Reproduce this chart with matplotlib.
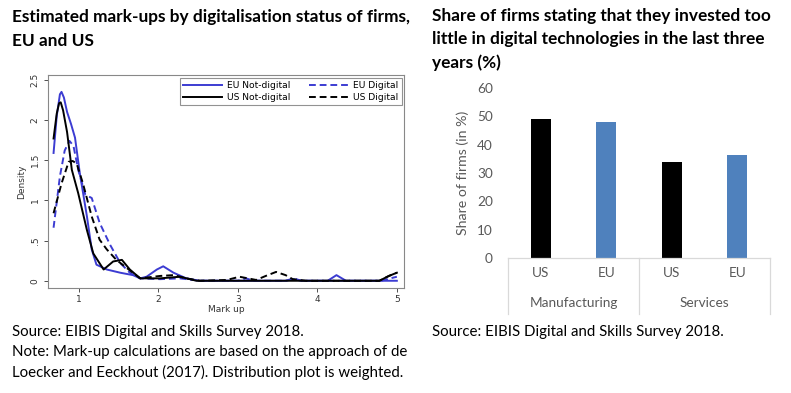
import matplotlib
matplotlib.use("Agg")
import matplotlib.pyplot as plt
from matplotlib.lines import Line2D

# ---------------- data: density curves ----------------
eu_nd_x = [0.68, 0.72, 0.76, 0.78, 0.81, 0.85, 0.90, 0.95, 1.01, 1.10, 1.16, 1.22, 1.35, 1.52, 1.68, 1.77,
           1.85, 1.98, 2.06, 2.19, 2.35, 2.52, 3.0, 3.6, 3.7, 3.8, 4.13, 4.24, 4.36, 4.6, 5.0]
eu_nd_y = [1.59, 2.05, 2.32, 2.35, 2.28, 2.10, 1.95, 1.78, 1.34, 0.80, 0.39, 0.20, 0.14, 0.10, 0.07, 0.03,
           0.05, 0.14, 0.18, 0.10, 0.03, 0.00, 0.00, 0.00, 0.02, 0.00, 0.00, 0.07, 0.00, 0.00, 0.00]

us_nd_x = [0.68, 0.72, 0.75, 0.77, 0.80, 0.85, 0.91, 0.99, 1.10, 1.18, 1.31, 1.43, 1.54, 1.64, 1.77,
           2.02, 2.27, 2.48, 3.0, 4.0, 4.78, 4.9, 5.0]
us_nd_y = [1.77, 2.08, 2.21, 2.22, 2.12, 1.85, 1.38, 1.09, 0.63, 0.34, 0.14, 0.24, 0.26, 0.14, 0.03,
           0.03, 0.05, 0.00, 0.00, 0.00, 0.00, 0.06, 0.10]

eu_d_x = [0.68, 0.76, 0.82, 0.88, 0.93, 0.99, 1.08, 1.16, 1.26, 1.39, 1.52, 1.64, 1.77,
          2.02, 2.27, 2.52, 3.0, 3.1, 3.2, 3.6, 3.7, 3.8, 4.8, 5.0]
eu_d_y = [0.66, 1.30, 1.62, 1.74, 1.68, 1.38, 1.07, 1.03, 0.72, 0.45, 0.22, 0.10, 0.03,
          0.02, 0.03, 0.00, 0.00, 0.03, 0.00, 0.00, 0.03, 0.00, 0.00, 0.05]

us_d_x = [0.68, 0.78, 0.87, 0.92, 0.97, 1.05, 1.16, 1.26, 1.35, 1.47, 1.60, 1.77, 2.02, 2.19, 2.35,
          2.52, 2.86, 3.02, 3.23, 3.35, 3.48, 3.60, 3.69, 3.86, 4.78, 4.9, 5.0]
us_d_y = [0.84, 1.21, 1.48, 1.49, 1.46, 1.21, 0.80, 0.51, 0.39, 0.26, 0.16, 0.03, 0.06, 0.07, 0.03,
          0.00, 0.01, 0.05, 0.01, 0.06, 0.11, 0.07, 0.02, 0.00, 0.00, 0.06, 0.10]

density_yticks = [0, 0.5, 1, 1.5, 2, 2.5]
density_yticklabels = ["0", ".5", "1", "1.5", "2", "2.5"]
density_xticks = [1, 2, 3, 4, 5]

# ---------------- data: bar chart ----------------
bar_regions = ["US", "EU", "US", "EU"]
bar_values = [49.2, 48.0, 33.9, 36.2]
bar_sectors = ["Manufacturing", "Services"]
bar_yticks = [0, 10, 20, 30, 40, 50, 60]

W, H = 791, 393
fig = plt.figure(figsize=(W / 100, H / 100), dpi=100)
fig.patch.set_facecolor("white")

BLUE = "#3c3cd2"
title_font = dict(family="Lato", fontweight="bold", fontsize=12.4, color="black")
body_font = dict(family="Lato", fontsize=10.8, color="black")

def fx(px):
    return px / W

def fy(py):
    return 1 - py / H

# ---------------- titles & notes ----------------
left_title = ["Estimated mark-ups by digitalisation status of firms,", "EU and US"]
for t, y in zip(left_title, [17, 41]):
    fig.text(fx(12), fy(y), t, va="center", ha="left", **title_font)
right_title = ["Share of firms stating that they invested too",
               "little in digital technologies in the last three", "years (%)"]
for t, y in zip(right_title, [16, 39, 63]):
    fig.text(fx(432), fy(y), t, va="center", ha="left", **title_font)
left_notes = ["Source: EIBIS Digital and Skills Survey 2018.",
              "Note: Mark-up calculations are based on the approach of de",
              "Loecker and Eeckhout (2017). Distribution plot is weighted."]
for t, y in zip(left_notes, [332, 352, 372]):
    fig.text(fx(12), fy(y), t, va="center", ha="left", **body_font)
fig.text(fx(432), fy(332), "Source: EIBIS Digital and Skills Survey 2018.",
         va="center", ha="left", **body_font)

# ---------------- left: density chart ----------------
ax1 = fig.add_axes([fx(48), fy(288), fx(404 - 48), (288 - 75) / H])
DASH = (0, (3.5, 2))
ax1.plot(eu_nd_x, eu_nd_y, color=BLUE, lw=1.4)
ax1.plot(eu_d_x, eu_d_y, color=BLUE, lw=1.4, ls=DASH)
ax1.plot(us_nd_x, us_nd_y, color="black", lw=1.4)
ax1.plot(us_d_x, us_d_y, color="black", lw=1.4, ls=DASH)
ax1.set_xlim(0.61, 5.09)
ax1.set_ylim(-0.09, 2.56)
ax1.set_yticks(density_yticks)
ax1.set_yticklabels(density_yticklabels, rotation=90, va="center")
ax1.set_xticks(density_xticks)
ax1.tick_params(labelsize=6.5, colors="#333333", length=3, width=0.6, pad=2)
ax1.tick_params(axis="y", pad=3)
for s in ax1.spines.values():
    s.set_color("#888888")
    s.set_linewidth(0.8)
ax1.set_ylabel("Density", fontsize=6.5, color="#333333", labelpad=3)
ax1.set_xlabel("Mark up", fontsize=6.5, color="#333333", labelpad=1)
handles = [Line2D([], [], color=BLUE, lw=1.4),
           Line2D([], [], color="black", lw=1.4),
           Line2D([], [], color=BLUE, lw=1.4, ls=DASH),
           Line2D([], [], color="black", lw=1.4, ls=DASH)]
labels = ["EU Not-digital", "US Not-digital", "EU Digital", "US Digital"]
leg = ax1.legend(handles, labels, ncol=2, loc="upper right", fontsize=6.6,
                 frameon=True, fancybox=False, edgecolor="#777777",
                 borderpad=0.35, handlelength=4.2, columnspacing=2.0,
                 labelspacing=0.3, handletextpad=0.6,
                 bbox_to_anchor=(0.993, 0.986), borderaxespad=0)
leg.get_frame().set_linewidth(0.8)

# ---------------- right: bar chart ----------------
ax2 = fig.add_axes([fx(508), fy(258), fx(770 - 508), (258 - 88) / H])
xpos = list(range(len(bar_values)))
colors = ["black", "#4f81bd", "black", "#4f81bd"]
ax2.bar(xpos, bar_values, width=0.31, color=colors)
ax2.set_xlim(-0.5, 3.5)
ax2.set_ylim(0, 60)
ax2.set_yticks(bar_yticks)
ax2.set_yticklabels([str(v) for v in bar_yticks], family="Lato", fontsize=9.8, color="#595959")
ax2.tick_params(axis="y", length=0, pad=11)
ax2.set_xticks([])
for side in ["top", "right", "left"]:
    ax2.spines[side].set_visible(False)
ax2.spines["bottom"].set_color("#d9d9d9")
ax2.spines["bottom"].set_linewidth(0.9)
ax2.set_ylabel("Share of firms (in %)", family="Lato", fontsize=10.2, color="#595959", labelpad=6)

trans = ax2.get_xaxis_transform()
for i, r in enumerate(bar_regions):
    ax2.text(xpos[i], -0.09, r, transform=trans, ha="center", va="center",
             family="Lato", fontsize=9.8, color="#595959", clip_on=False)
for j, s in enumerate(bar_sectors):
    ax2.text(2 * j + 0.5, -0.265, s, transform=trans, ha="center", va="center",
             family="Lato", fontsize=9.8, color="#595959", clip_on=False)
for xv in [-0.5, 1.5, 3.5]:
    ax2.plot([xv, xv], [0, -0.33], transform=trans, color="#d9d9d9", lw=0.9, clip_on=False)

fig.savefig("out.png", dpi=100, facecolor="white")
